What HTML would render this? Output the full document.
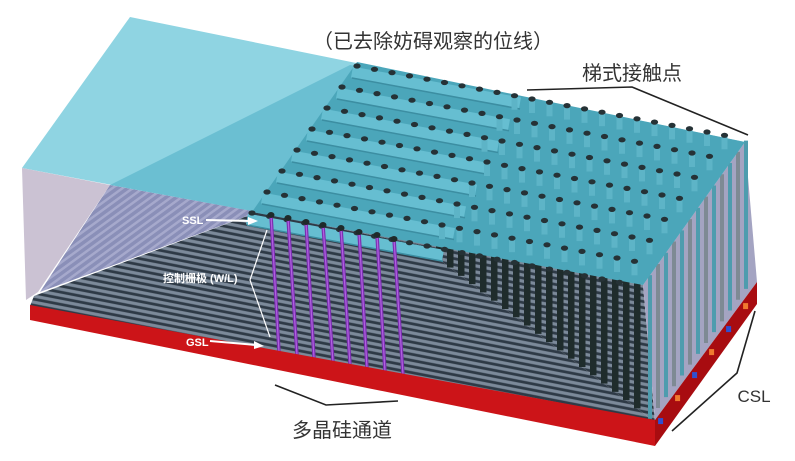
<!DOCTYPE html>
<html><head><meta charset="utf-8">
<style>
html,body{margin:0;padding:0;background:#fff;}
svg{display:block;}
text{font-family:"Liberation Sans","Noto Sans CJK SC",sans-serif;}
</style></head>
<body>
<svg id="s" width="795" height="461" viewBox="0 0 795 461" xmlns="http://www.w3.org/2000/svg">
<defs>
<pattern id="st" width="8" height="6" patternUnits="userSpaceOnUse" patternTransform="rotate(11)">
<rect width="8" height="6" fill="#2e3a46"/>
<rect width="8" height="3.2" y="0.6" fill="#7c8a9a"/>
</pattern>
<pattern id="st2" width="8" height="6" patternUnits="userSpaceOnUse" patternTransform="rotate(-36)">
<rect width="8" height="6" fill="#8a8fb8"/>
<rect width="8" height="2.5" y="1" fill="#a6a9cc"/>
</pattern>
</defs>
<polygon points="130,17 745,142 643,285 22,168" fill="#8fd4e2"/>
<polygon points="22,168 110,185 38,292 26,300" fill="#cbc2d3"/>
<polygon points="110,185 258,212 40,292" fill="url(#st2)"/>
<polygon points="110,185 350,65 520,96 258,212" fill="#6bbfd2"/>
<polygon points="34,296 258,212 420,245 655,422 30,306" fill="url(#st)"/>
<polygon points="258,212 643,285 655,422 420,245" fill="url(#st)"/>
<polygon points="643,285 745,142 757,282 655,420" fill="#a4a4c2"/>
<g id="rp"></g>
<g id="pil"></g>
<polygon points="357,62 745,142 643,285 252,212" fill="#4ba6ba"/>
<g id="bars"></g>
<g id="dots"></g>
<g id="pur"></g>
<polygon points="30,305 655,420 655,446 30,320" fill="#cc1418"/>
<polygon points="655,420 757,282 757,304 655,446" fill="#a80c10"/>
<g id="csl"></g>
<text x="433" y="48" font-size="20" fill="#333" text-anchor="middle">（已去除妨碍观察的位线）</text>
<text x="632" y="80" font-size="20" fill="#333" text-anchor="middle">梯式接触点</text>
<polyline points="527,90 632,87 748,135" fill="none" stroke="#222" stroke-width="1.6"/>
<text x="342" y="437" font-size="20" fill="#333" text-anchor="middle">多晶硅通道</text>
<polyline points="275,385 326,405 398,401" fill="none" stroke="#222" stroke-width="1.6"/>
<text x="754" y="402" font-size="17" fill="#333" text-anchor="middle">CSL</text>
<polyline points="755,311 737,373 672,431" fill="none" stroke="#222" stroke-width="1.6"/>
<g fill="#fff" font-weight="bold" font-size="11">
<text x="182" y="224">SSL</text>
<text x="163" y="282">控制栅极 (W/L)</text>
<text x="186" y="346">GSL</text>
</g>
<g stroke="#fff" stroke-width="2" fill="#fff">
<line x1="206" y1="220" x2="250" y2="221"/><polygon points="258,221 248,217 248,225" stroke="none"/>
<line x1="210" y1="341" x2="256" y2="345"/><polygon points="264,346 254,341 254,349" stroke="none"/>
<polyline points="267,230 250,280 270,337" fill="none" stroke-width="1.2"/>
</g>
</svg>
<script>
var NS="http://www.w3.org/2000/svg";
function el(g,t,a){var e=document.createElementNS(NS,t);for(var k in a)e.setAttribute(k,a[k]);document.getElementById(g).appendChild(e);return e;}
for(var x=650;x<752;x+=8){var f=(x-643)/102;var ty=285-143*f;var by=420-138*((x-655)/102)-8;
el("rp","line",{x1:x,y1:ty,x2:x,y2:by,stroke:(x%16<8)?"#7e8a94":"#4e9cae","stroke-width":4});}
for(var x=428;x<640;x+=11){var ty=212+(x-252)*0.188-4;var by=245+(x-420)*(177/235);
el("pil","rect",{x:x-3,y:ty,width:6.5,height:by-ty,fill:"#1f2c2c"});}
for(var i=0;i<8;i++){var sx=357-15*i, sy=66+21*i;
 var ex=520-11*i; var ey=sy+(ex-sx)*0.19;
 el("bars","line",{x1:sx-5,y1:sy+6,x2:ex,y2:ey+6,stroke:"#66bed1","stroke-width":11});
 el("bars","line",{x1:sx-5,y1:sy+12,x2:ex,y2:ey+12,stroke:"#3c8ea2","stroke-width":1.5});
 for(var k=0;k<30;k++){var dx=sx+17.5*k, dy=sy+3.3*k;
  var bx=745-(dy-142)*(102/143);
  if(dx>bx-6)break;
  var edgeY=212+(dx-252)*0.188;
  if(dx>505-11*i){el("dots","rect",{x:dx-3,y:dy,width:6,height:Math.min(14,edgeY-dy),fill:"#5db4c7"});}
  el("dots","ellipse",{cx:dx,cy:dy,rx:3.6,ry:2.6,fill:"#263236"});
 }}
var tops=[[271,215],[288,218],[306,222],[323,225],[341,228],[359,232],[377,235],[394,239]];
var bots=[[279,352],[297,355],[314,358],[333,362],[350,364],[367,368],[385,372],[403,375]];
for(var i=0;i<8;i++){el("pur","line",{x1:tops[i][0],y1:tops[i][1],x2:bots[i][0],y2:bots[i][1],stroke:"#7a2fb0","stroke-width":3.5});
el("pur","line",{x1:tops[i][0],y1:tops[i][1],x2:bots[i][0],y2:bots[i][1],stroke:"#b060e0","stroke-width":1.2});
el("pur","ellipse",{cx:tops[i][0],cy:tops[i][1],rx:3.5,ry:3,fill:"#1f2a2a"});}
for(var j=0;j<6;j++){var f=j/6+0.05;var x=655+102*f,y=428-138*f;el("csl","rect",{x:x-2,y:y-3,width:5,height:6,fill:(j%2)?"#f07a30":"#3050d0"});}
</script>
</body></html>
